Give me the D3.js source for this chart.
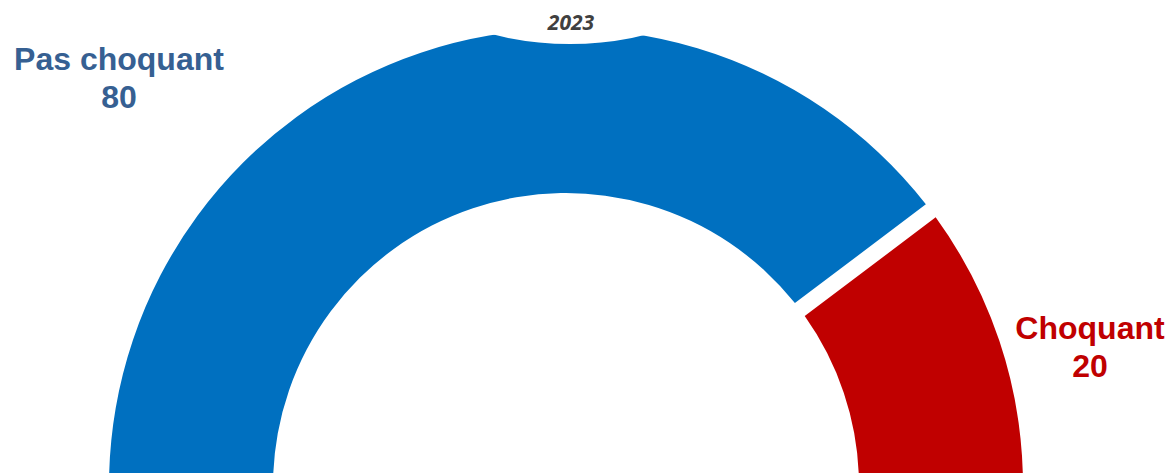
<!DOCTYPE html>
<html>
<head>
<meta charset="utf-8">
<script src="https://cdn.jsdelivr.net/npm/d3@7"></script>
<style>
  html, body { margin: 0; padding: 0; background: #ffffff; overflow: hidden; }
  svg { display: block; }
</style>
</head>
<body>
<div id="chart"></div>
<script>
const categories = ['Pas choquant', 'Choquant'];
const values = [80, 20];
const colors = ['#0070C0', '#C00000'];
const labelColors = ['#366092', '#C00000'];
const yearLabel = '2023';

document.addEventListener('DOMContentLoaded', () => {
  const width = 1169;
  const height = 473;
  const cx = 566;
  const cy = 486;
  const outerRadius = 457;
  const innerRadius = 293;

  const rows = categories.map((name, i) => ({ name, value: values[i], color: colors[i], labelColor: labelColors[i] }));

  const svg = d3.select('#chart')
    .append('svg')
    .attr('width', width)
    .attr('height', height)
    .attr('viewBox', `0 0 ${width} ${height}`);

  const pie = d3.pie()
    .sort(null)
    .value((row) => row.value)
    .startAngle(-Math.PI / 2)
    .endAngle(Math.PI / 2)
    .padAngle(0.03);

  const arc = d3.arc()
    .innerRadius(innerRadius)
    .outerRadius(outerRadius)
    .padRadius(Math.sqrt(innerRadius * innerRadius + outerRadius * outerRadius));

  const chart = svg.append('g')
    .attr('transform', `translate(${cx},${cy})`);

  chart.selectAll('.slice')
    .data(pie(rows))
    .enter()
    .append('path')
    .attr('class', 'slice')
    .attr('d', arc)
    .attr('fill', (d) => d.data.color);

  // white backdrop behind the year label, cuts into the top of the ring
  svg.append('circle')
    .attr('cx', 570)
    .attr('cy', -273)
    .attr('r', 317)
    .attr('fill', '#ffffff');

  svg.append('text')
    .attr('x', 571)
    .attr('y', 30)
    .attr('text-anchor', 'middle')
    .attr('font-family', '"Open Sans", "Liberation Sans", sans-serif')
    .attr('font-style', 'italic')
    .attr('font-weight', 700)
    .attr('font-size', 21)
    .attr('fill', '#404040')
    .text(yearLabel);

  const labelPos = [
    { x: 119, y: 70 },
    { x: 1090, y: 339 },
  ];

  rows.forEach((row, i) => {
    const t = svg.append('text')
      .attr('x', labelPos[i].x)
      .attr('y', labelPos[i].y)
      .attr('text-anchor', 'middle')
      .attr('font-family', '"Liberation Sans", Arial, sans-serif')
      .attr('font-weight', 700)
      .attr('font-size', 32)
      .attr('fill', row.labelColor);
    t.append('tspan')
      .attr('x', labelPos[i].x)
      .text(row.name);
    t.append('tspan')
      .attr('x', labelPos[i].x)
      .attr('dy', 37.5)
      .text(d3.format('d')(row.value));
  });
});
</script>
</body>
</html>
